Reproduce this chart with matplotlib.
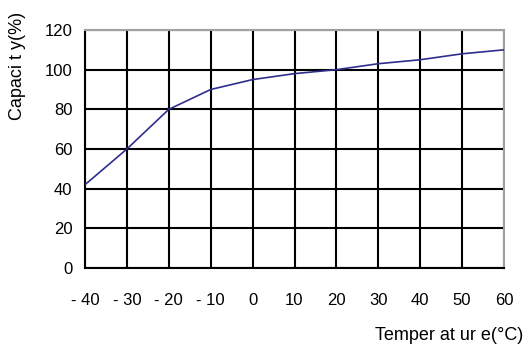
import numpy as np
from matplotlib import pyplot as plt

temps = [-40, -30, -20, -10, 0, 10, 20, 30, 40, 50, 60]
capacity = [42, 60, 80, 90, 95, 98, 100, 103, 105, 108, 110]
xtick_labels = ['- 40', '- 30', '- 20', '- 10', '0', '10', '20', '30', '40', '50', '60']
yticks = [0, 20, 40, 60, 80, 100, 120]

plt.rcParams['font.family'] = ['Liberation Sans', 'DejaVu Sans']

fig = plt.figure(figsize=(5.26, 3.45), dpi=100)
ax = fig.add_axes([85/526, 1-268/345, (504-85)/526, (268-30)/345])

ax.plot(temps, capacity, color='#2e2e8c', lw=1.2, zorder=3)

ax.set_xlim(-40, 60)
ax.set_ylim(0, 120)
ax.set_xticks(temps)
ax.set_xticklabels(xtick_labels)
ax.set_yticks(yticks)
ax.grid(True, color='black', lw=1.5)
ax.tick_params(length=0, labelsize=12)
ax.tick_params(axis='x', pad=18)
ax.tick_params(axis='y', pad=9)

ax.spines['left'].set_color('black')
ax.spines['bottom'].set_color('black')
ax.spines['left'].set_linewidth(1.5)
ax.spines['bottom'].set_linewidth(1.5)
ax.spines['top'].set_color('#a0a0a0')
ax.spines['right'].set_color('#a0a0a0')
ax.spines['top'].set_linewidth(1.5)
ax.spines['right'].set_linewidth(1.5)

fig.text(18/526, 1-12/345, 'Capaci t y(%)', rotation=90, fontsize=13,
         ha='center', va='top')
fig.text(523/526, 1-335/345, 'Temper at ur e(°C)', fontsize=13,
         ha='right', va='center')

fig.savefig('out.png', dpi=100)
